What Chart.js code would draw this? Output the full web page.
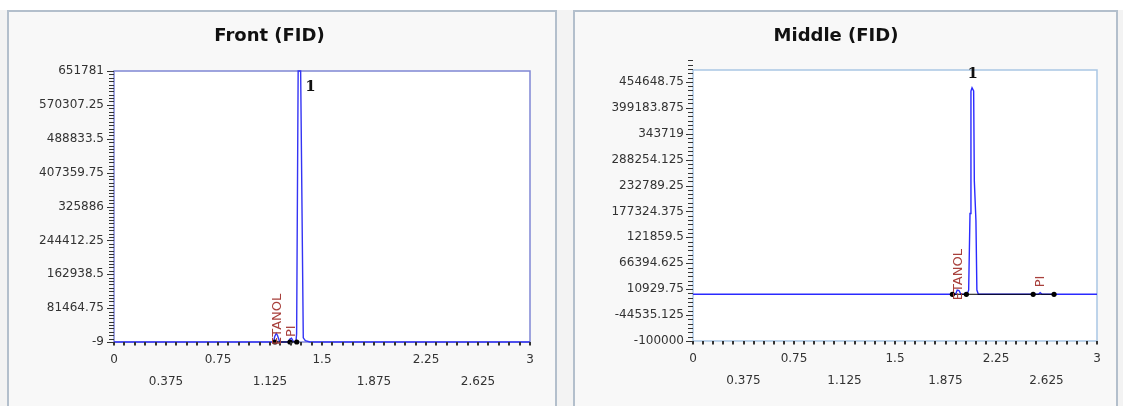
<!DOCTYPE html>
<html><head><meta charset="utf-8">
<script src="https://cdn.jsdelivr.net/npm/chart.js@4.4.1/dist/chart.umd.min.js"></script>
<style>
html,body{margin:0;padding:0;background:#fff;width:1123px;height:406px;overflow:hidden;font-family:"DejaVu Sans",sans-serif}
#bg{position:absolute;left:0;top:10px;width:1123px;height:396px;background:#f3f3f3}
.card{position:absolute;top:10px;height:402px;box-sizing:border-box;border:2px solid #b3bfcc;background:#f8f8f8}
#c1{left:7px;width:550px}
#c2{left:573px;width:545px}
.wrap{position:absolute}
</style></head><body>
<div id="bg"></div>
<div class="card" id="c1"></div><div class="card" id="c2"></div>
<div class="wrap" style="left:9px;top:12px;width:546px;height:394px"><canvas id="front"></canvas></div>
<div class="wrap" style="left:575px;top:12px;width:541px;height:394px"><canvas id="middle"></canvas></div>
<script>
// ---------- DATA ----------
const xTicks = [0, 0.375, 0.75, 1.125, 1.5, 1.875, 2.25, 2.625, 3];
const xMajorTicks = [0, 0.75, 1.5, 2.25, 3];

// Front (FID)
const frontTitle = 'Front (FID)';
const frontYTicks = [-9, 81464.75, 162938.5, 244412.25, 325886, 407359.75, 488833.5, 570307.25, 651781];
const frontX = [0, 1.10, 1.150, 1.160, 1.170, 1.180, 1.195, 1.255, 1.268, 1.280, 1.292, 1.312, 1.317, 1.328, 1.337, 1.346, 1.365, 1.380, 1.413, 3.0];
const frontY = [0, 0, 0, 14000, 21000, 15000, 0, 0, 7000, 9000, 2000, 0, 20000, 651781, 651781, 651781, 10000, 3000, 0, 0];
const frontDotsX = [1.161, 1.269, 1.318];
const frontDotsY = [0, 0, 0];
const frontCompNames = ['ETANOL', 'PI'];
const frontCompX = [1.183, 1.284];
const frontPeakNames = ['1'];
const frontPeakX = [1.417];
const frontPeakY = [612000];

// Middle (FID)
const midTitle = 'Middle (FID)';
const midYTicks = [-100000, -44535.125, 10929.75, 66394.625, 121859.5, 177324.375, 232789.25, 288254.125, 343719, 399183.875, 454648.75];
const midX = [0, 1.930, 1.950, 1.962, 1.975, 1.990, 2.035, 2.047, 2.057, 2.064, 2.072, 2.084, 2.089, 2.101, 2.108, 2.119, 2.565, 2.578, 2.592, 3.0];
const midY = [0, 0, 0, 9000, 8000, 0, 0, 8800, 173000, 435000, 442000, 435000, 243000, 158000, 9000, 0, 0, 3500, 0, 0];
const midDotsX = [1.926, 2.030, 2.526, 2.681];
const midDotsY = [0, 0, 0, 0];
const midCompNames = ['ETANOL', 'PI'];
const midCompX = [1.970, 2.585];
const midPeakNames = ['1'];
const midPeakX = [2.078];
const midPeakY = [470600];

// ---------- PLUGIN ----------
const chromPlugin = {
  id: 'chrom',
  beforeDraw(chart) {
    const {ctx, chartArea: a} = chart;
    ctx.save();
    ctx.fillStyle = '#ffffff';
    ctx.fillRect(a.left, a.top, a.right - a.left, a.bottom - a.top);
    ctx.restore();
  },
  beforeDatasetsDraw(chart, args, o) {
    const {ctx, chartArea: a} = chart;
    ctx.save();
    ctx.strokeStyle = o.boxColor;
    ctx.lineWidth = 1.5;
    ctx.strokeRect(a.left, a.top, a.right - a.left, a.bottom - a.top);
    ctx.restore();
  },
  afterDraw(chart, args, o) {
    const {ctx, chartArea: a, scales: {x, y}} = chart;
    ctx.save();
    ctx.fillStyle = '#333333';
    const t = o.yTicks;
    const n = Number(o.yMinor);
    const step = (t[1] - t[0]) / n;
    const minPix = a.top - Number(o.extendTop);
    for (let k = 0; k < 400; k++) {
      const v = t[0] + k * step;
      const p = Math.round(y.getPixelForValue(v));
      if (p < minPix) break;
      const len = (k % n === 0) ? 7 : 5;
      ctx.fillRect(a.left - len, p, len, 1);
    }
    for (let i = 0; i <= 40; i++) {
      const p = Math.round(x.getPixelForValue(i * 0.075));
      ctx.fillRect(p - 1, a.bottom, 2, 3.5);
    }
    // component labels
    ctx.fillStyle = '#a8403c';
    ctx.font = '13px "DejaVu Sans"';
    ctx.textAlign = 'left';
    ctx.textBaseline = 'middle';
    o.compNames.forEach((nm, i) => {
      const px = x.getPixelForValue(o.compX[i]);
      const py = y.getPixelForValue(0) + o.compOffset[i];
      ctx.save();
      ctx.translate(px, py);
      ctx.rotate(-Math.PI / 2);
      ctx.fillText(nm, 0, 0);
      ctx.restore();
    });
    ctx.fillStyle = '#111';
    ctx.font = 'bold 15px "DejaVu Serif"';
    ctx.textAlign = 'center';
    o.peakNames.forEach((nm, i) => {
      ctx.fillText(nm, x.getPixelForValue(o.peakX[i]), y.getPixelForValue(o.peakY[i]));
    });
    ctx.restore();
  }
};

function makeChart(id, cfg) {
  const pts = cfg.xs.map((v, i) => ({x: v, y: cfg.ys[i]}));
  const dots = cfg.dx.map((v, i) => ({x: v, y: cfg.dy[i]}));
  return new Chart(document.getElementById(id), {
    type: 'scatter',
    data: {datasets: [
      {data: pts, showLine: true, borderColor: cfg.lineColor, borderWidth: 1.4, pointRadius: 0, tension: 0, clip: 2, order: 2},
      {data: dots, showLine: true, borderColor: '#000', borderWidth: 1, pointRadius: 2.6, pointBackgroundColor: '#000', pointBorderWidth: 0, clip: false, order: 1}
    ]},
    options: {
      responsive: true, maintainAspectRatio: false, animation: false,
      layout: {padding: {left: 0, right: cfg.padRight, top: 0, bottom: 0}},
      plugins: {
        legend: {display: false}, tooltip: {enabled: false},
        title: {display: true, text: cfg.title, color: '#111',
          font: {family: 'DejaVu Sans', size: 18, weight: 'bold', lineHeight: 1.2},
          padding: {top: 14, bottom: cfg.titleBottom}},
        chrom: {yTicks: cfg.yTicks, yMinor: cfg.yMinor, extendTop: cfg.extendTop, boxColor: cfg.boxColor,
          compNames: cfg.compNames, compX: cfg.compX, compOffset: cfg.compOffset,
          peakNames: cfg.peakNames, peakX: cfg.peakX, peakY: cfg.peakY}
      },
      scales: {
        x: {type: 'linear', min: 0, max: 3,
          grid: {display: false, drawTicks: false}, border: {display: false},
          afterBuildTicks: s => { s.ticks = xTicks.map(v => ({value: v})); },
          afterFit: s => { s.height = cfg.xHeight; },
          ticks: {autoSkip: false, maxRotation: 0, color: '#333', padding: 7,
            font: {family: 'DejaVu Sans', size: 12, lineHeight: 1.8},
            callback: v => xMajorTicks.includes(v) ? String(v) : ['', String(v)]}
        },
        y: {type: 'linear', min: cfg.yTicks[0], max: cfg.yMax,
          grid: {display: false, drawTicks: false}, border: {display: false},
          afterBuildTicks: s => { s.ticks = cfg.yTicks.map(v => ({value: v})); },
          afterFit: s => { s.width = cfg.yWidth; },
          ticks: {color: '#333', padding: cfg.yPad, font: {family: 'DejaVu Sans', size: 12},
            callback: v => String(v)}
        }
      }
    },
    plugins: [chromPlugin]
  });
}

makeChart('front', {
  title: frontTitle, xs: frontX, ys: frontY, dx: frontDotsX, dy: frontDotsY,
  yTicks: frontYTicks, yMax: frontYTicks[frontYTicks.length - 1], yMinor: 10, extendTop: 0,
  lineColor: '#3434f4', boxColor: '#7f86d4',
  padRight: 25, yWidth: 105, xHeight: 64, titleBottom: 23.4, yPad: 10,
  compNames: frontCompNames, compX: frontCompX, compOffset: [3, -5],
  peakNames: frontPeakNames, peakX: frontPeakX, peakY: frontPeakY
});
makeChart('middle', {
  title: midTitle, xs: midX, ys: midY, dx: midDotsX, dy: midDotsY,
  yTicks: midYTicks, yMax: 480000, yMinor: 6, extendTop: 10,
  lineColor: '#2a2aff', boxColor: '#a9c6e4',
  padRight: 19, yWidth: 118, xHeight: 65, titleBottom: 22.4, yPad: 9,
  compNames: midCompNames, compX: midCompX, compOffset: [6, -7],
  peakNames: midPeakNames, peakX: midPeakX, peakY: midPeakY
});
</script>
</body></html>
